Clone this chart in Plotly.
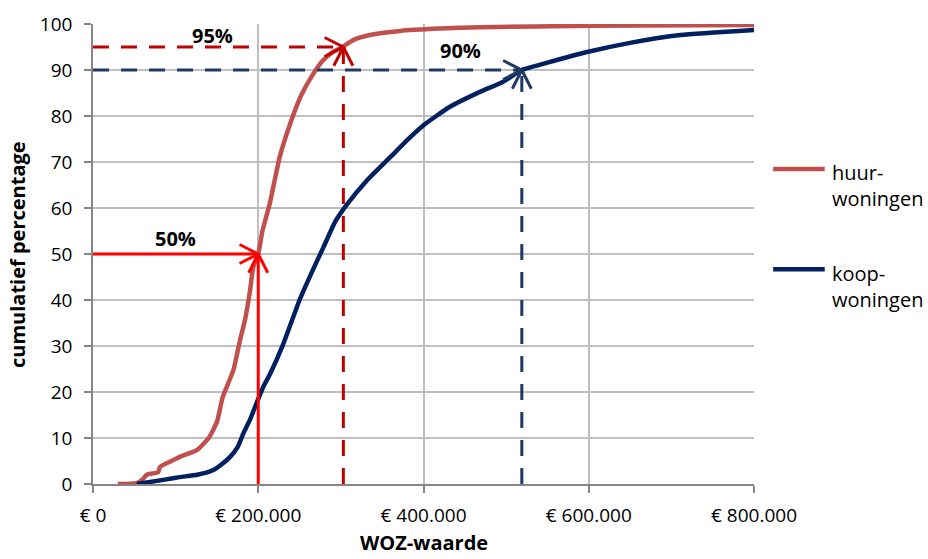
import math
import plotly.graph_objects as go

# Cumulative distribution of WOZ values (euro) for rental and owner-occupied homes
huur_x = [30000, 53000, 60000, 65000, 79000, 81000, 95000, 105000, 126000, 140000,
          150000, 157000, 165000, 170000, 178000, 184000, 190000, 194000, 200000,
          205000, 214000, 226000, 238000, 252000, 266000, 278000, 290000, 302000,
          315000, 335000, 372000, 420000, 468000, 600000, 800000]
huur_y = [0, 0.2, 1, 2, 2.6, 3.7, 5, 5.9, 7.4, 10,
          13.5, 18.9, 22.5, 24.8, 31.3, 35.7, 42, 47.2, 50,
          55, 61, 71.1, 78, 84.5, 89, 92, 93.9, 95,
          96.5, 97.6, 98.5, 99, 99.3, 99.6, 99.8]

koop_x = [53000, 85000, 105000, 126000, 145000, 155000, 166000, 175000, 182000, 190000,
          198000, 206000, 214000, 230000, 250000, 266000, 279000, 293000, 307000,
          332000, 360000, 384000, 400000, 432000, 469000, 496000, 519000, 550000,
          598000, 650000, 711000, 800000]
koop_y = [0, 0.9, 1.5, 2, 3, 4.2, 5.9, 8, 11, 14,
          17.6, 21.1, 23.8, 30.3, 40, 46.5, 51.5, 57, 60.7,
          66.1, 71.1, 75.4, 78, 82, 85.3, 87.4, 90, 91.6,
          93.9, 95.9, 97.6, 98.7]

# Reference percentiles: (level %, WOZ value, label)
p50_huur = (50, 200000, "50%")
p95_huur = (95, 303000, "95%")
p90_koop = (90, 519000, "90%")
label_pos = [(100000, 53.3), (145000, 97.6), (445000, 94.3)]

x_ticks = [0, 200000, 400000, 600000, 800000]
x_ticklabels = ["€ 0", "€ 200.000", "€ 400.000", "€ 600.000", "€ 800.000"]
y_ticks = [0, 10, 20, 30, 40, 50, 60, 70, 80, 90, 100]

series_names = ["huur-<br>woningen", "koop-<br>woningen"]

HUUR = "#C0504D"
KOOP = "#002060"
FONT = "Open Sans"

W, H = 928, 559
ML, MR, MT, MB = 93, 174, 24, 75
PW, PH = W - ML - MR, H - MT - MB
X_MAX, Y_MAX = 800000, 100
px_x = PW / X_MAX   # pixels per euro
px_y = PH / Y_MAX   # pixels per percent

fig = go.Figure()

fig.add_trace(go.Scatter(x=huur_x, y=huur_y, mode="lines",
                         line=dict(color=HUUR, width=4.5, shape="spline", smoothing=0.5),
                         showlegend=False))
fig.add_trace(go.Scatter(x=koop_x, y=koop_y, mode="lines",
                         line=dict(color=KOOP, width=4.5, shape="spline", smoothing=0.5),
                         showlegend=False))


def open_arrow(tx, ty, direction, size=21, spread=0.47):
    """V-shaped open arrowhead with its tip at (tx, ty), in data units."""
    xs, ys = [], []
    for s in (-1, 1):
        a = spread * s
        if direction == "right":
            dxp, dyp = -size * math.cos(a), size * math.sin(a)
        else:  # up
            dxp, dyp = size * math.sin(a), -size * math.cos(a)
        xs += [tx + dxp / px_x, tx, None]
        ys += [ty + dyp / px_y, ty, None]
    return xs, ys


def guide(level, value, color, dash):
    # horizontal line from the y axis, vertical line from the x axis
    fig.add_trace(go.Scatter(x=[0, value], y=[level, level], mode="lines",
                             line=dict(color=color, width=3, dash=dash),
                             showlegend=False, hoverinfo="skip"))
    fig.add_trace(go.Scatter(x=[value, value], y=[0, level], mode="lines",
                             line=dict(color=color, width=3, dash=dash),
                             showlegend=False, hoverinfo="skip"))
    for d in ("right", "up"):
        ax, ay = open_arrow(value, level, d)
        fig.add_trace(go.Scatter(x=ax, y=ay, mode="lines",
                                 line=dict(color=color, width=3),
                                 showlegend=False, hoverinfo="skip"))


guide(p50_huur[0], p50_huur[1], "#FF0000", "solid")
guide(p95_huur[0], p95_huur[1], "#C00000", "16px,12px")
guide(p90_koop[0], p90_koop[1], "#1F3864", "16px,12px")

label_font = dict(family=FONT, size=20, color="black")
for (lvl, val, txt), (lx, ly) in zip([p50_huur, p95_huur, p90_koop], label_pos):
    fig.add_annotation(x=lx, y=ly, text=f"<b>{txt}</b>", showarrow=False,
                       font=label_font, xanchor="center", yanchor="middle")

# Legend drawn beside the plot area
leg_y = [0.685, 0.467]
leg_txt_y = [0.65, 0.43]
for name, col, ly, ty in zip(series_names, [HUUR, KOOP], leg_y, leg_txt_y):
    fig.add_shape(type="line", xref="paper", yref="paper",
                  x0=1.029, x1=1.107, y0=ly, y1=ly,
                  line=dict(color=col, width=4.5))
    fig.add_annotation(xref="paper", yref="paper", x=1.115, y=ty, text=name,
                       showarrow=False, xanchor="left", yanchor="middle",
                       align="left", font=dict(family=FONT, size=20, color="black"))

fig.add_annotation(xref="paper", yref="paper", x=-0.115, y=0.5,
                   text="<b>cumulatief percentage</b>", textangle=-90,
                   showarrow=False, xanchor="center", yanchor="middle",
                   font=dict(family=FONT, size=20, color="black"))
fig.add_annotation(xref="paper", yref="paper", x=0.5, y=-0.128,
                   text="<b>WOZ-waarde</b>", showarrow=False,
                   xanchor="center", yanchor="middle",
                   font=dict(family=FONT, size=20, color="black"))

fig.update_layout(
    width=W, height=H,
    margin=dict(l=ML, r=MR, t=MT, b=MB),
    paper_bgcolor="white", plot_bgcolor="white",
    font=dict(family=FONT, size=20, color="black"),
    showlegend=False,
)
fig.update_xaxes(range=[0, X_MAX], tickvals=x_ticks, ticktext=x_ticklabels,
                 showgrid=True, gridcolor="#BFBFBF", gridwidth=1.5,
                 showline=True, linecolor="#868686", linewidth=1.5,
                 ticks="outside", ticklen=7, tickcolor="#868686", tickwidth=1.5,
                 zeroline=False, ticklabelstandoff=6,
                 tickfont=dict(family=FONT, size=19))
fig.update_yaxes(range=[0, Y_MAX], tickvals=y_ticks,
                 showgrid=True, gridcolor="#BFBFBF", gridwidth=1.5,
                 showline=True, linecolor="#868686", linewidth=1.5,
                 ticks="outside", ticklen=7, tickcolor="#868686", tickwidth=1.5,
                 zeroline=False, ticklabelstandoff=8,
                 tickfont=dict(family=FONT, size=19))

fig.write_html("out.html")
